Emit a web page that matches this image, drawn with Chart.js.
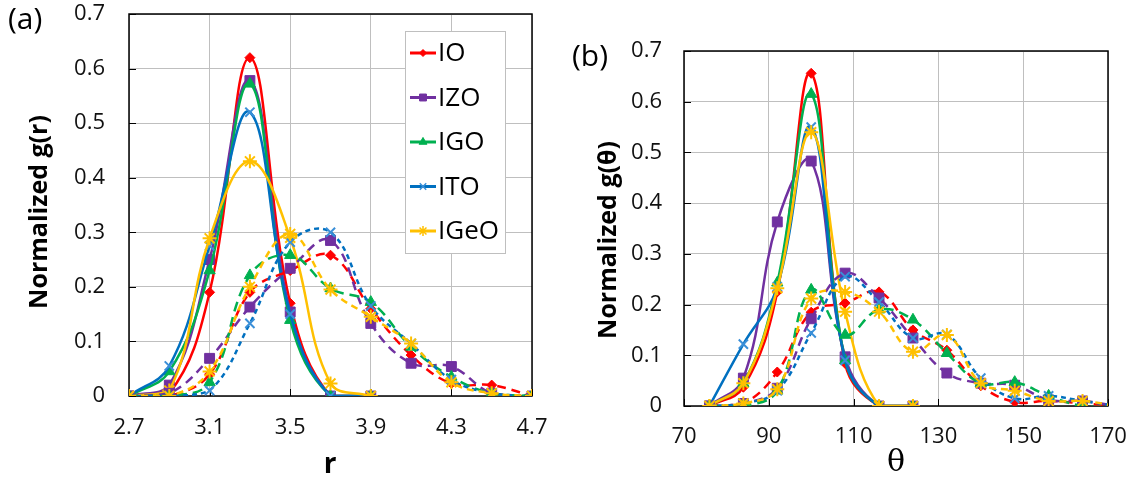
<!DOCTYPE html>
<html><head><meta charset="utf-8">
<script src="https://cdn.jsdelivr.net/npm/chart.js@4.4.1/dist/chart.umd.min.js"></script>
<style>
html,body{margin:0;padding:0;background:#fff;}
#wrap{position:relative;width:1132px;height:478px;overflow:hidden;}
#c1{position:absolute;left:0;top:0;}
#c2{position:absolute;left:560px;top:0;}
</style></head><body>
<div id="wrap">
<canvas id="c1" width="560" height="478"></canvas>
<canvas id="c2" width="572" height="478"></canvas>
</div>
<script>
// ---------- DATA ----------
const materials = ['IO', 'IZO', 'IGO', 'ITO', 'IGeO'];

// (a) g(r)
const rSolidX = [2.7, 2.9, 3.1, 3.3, 3.5, 3.7, 3.9];
const rDashX  = [2.7, 2.9, 3.1, 3.3, 3.5, 3.7, 3.9, 4.1, 4.3, 4.5, 4.7];
const gr_IO_solid   = [0, 0.005, 0.19, 0.62, 0.17, 0, 0];
const gr_IZO_solid  = [0, 0.02, 0.25, 0.578, 0.154, 0, 0];
const gr_IGO_solid  = [0, 0.045, 0.23, 0.572, 0.139, 0, 0];
const gr_ITO_solid  = [0, 0.055, 0.275, 0.52, 0.15, 0, 0];
const gr_IGeO_solid = [0, 0.01, 0.289, 0.43, 0.29, 0.023, 0];
const gr_IO_dash    = [0, 0, 0.04, 0.19, 0.23, 0.258, 0.16, 0.075, 0.023, 0.02, 0];
const gr_IZO_dash   = [0, 0.005, 0.069, 0.163, 0.234, 0.285, 0.133, 0.06, 0.054, 0.005, 0];
const gr_IGO_dash   = [0, 0, 0.025, 0.221, 0.258, 0.197, 0.172, 0.09, 0.035, 0.005, 0];
const gr_ITO_dash   = [0, 0, 0.01, 0.133, 0.282, 0.30, 0.165, 0.096, 0.03, 0.005, 0];
const gr_IGeO_dash  = [0, 0, 0.045, 0.2, 0.297, 0.195, 0.145, 0.096, 0.025, 0.005, 0];
const rTicks = [2.7, 3.1, 3.5, 3.9, 4.3, 4.7];
const rTickLabels = ['2.7', '3.1', '3.5', '3.9', '4.3', '4.7'];

// (b) g(theta)
const tSolidX = [76, 84, 92, 100, 108, 116, 124];
const tDashX  = [76, 84, 92, 100, 108, 116, 124, 132, 140, 148, 156, 164, 172];
const gt_IO_solid   = [0, 0.037, 0.225, 0.656, 0.084, 0, 0];
const gt_IZO_solid  = [0, 0.055, 0.363, 0.483, 0.097, 0, 0];
const gt_IGO_solid  = [0, 0.045, 0.243, 0.615, 0.09, 0, 0];
const gt_ITO_solid  = [0, 0.122, 0.235, 0.55, 0.09, 0, 0];
const gt_IGeO_solid = [0, 0.045, 0.232, 0.54, 0.186, 0, 0];
const gt_IO_dash    = [0, 0.005, 0.067, 0.185, 0.203, 0.225, 0.15, 0.11, 0.04, 0.008, 0.01, 0.005, 0];
const gt_IZO_dash   = [0, 0.005, 0.035, 0.172, 0.262, 0.213, 0.134, 0.065, 0.045, 0.041, 0.012, 0.01, 0];
const gt_IGO_dash   = [0, 0, 0.03, 0.229, 0.14, 0.19, 0.17, 0.104, 0.045, 0.047, 0.02, 0, 0];
const gt_ITO_dash   = [0, 0.005, 0.03, 0.144, 0.255, 0.205, 0.134, 0.141, 0.055, 0.015, 0.02, 0.01, 0];
const gt_IGeO_dash  = [0, 0.005, 0.033, 0.212, 0.225, 0.186, 0.107, 0.14, 0.045, 0.03, 0.01, 0.01, 0];
const tTicks = [70, 90, 110, 130, 150, 170];
const tTickLabels = ['70', '90', '110', '130', '150', '170'];

const yTicks = [0, 0.1, 0.2, 0.3, 0.4, 0.5, 0.6, 0.7];
const yTickLabels = ['0', '0.1', '0.2', '0.3', '0.4', '0.5', '0.6', '0.7'];

// ---------- STYLE ----------
const FONT = '"Open Sans", sans-serif';
const styles = {
  IO:   {color: '#FF0000', mcolor: '#FF0000', style: 'rectRot',  r: 5,   dash: [9, 6]},
  IZO:  {color: '#7030A0', mcolor: '#7030A0', style: 'rect',     r: 7,   dash: [9, 6]},
  IGO:  {color: '#00B050', mcolor: '#00B050', style: 'triangle', r: 6.5, dash: [10, 6]},
  ITO:  {color: '#0070C0', mcolor: '#3A8FD8', style: 'crossRot', r: 6.5, dash: [5, 4]},
  IGeO: {color: '#FFC000', mcolor: '#FFC000', style: 'star',     r: 7,   dash: [7, 5]}
};

function pts(xs, ys) { return xs.map((x, i) => ({x: x, y: ys[i]})); }

function makeDatasets(solidX, dashX, solids, dashes) {
  const ds = [];
  const all = [];
  materials.forEach((m, i) => all.push({m, data: pts(solidX, solids[i]), dashed: false}));
  materials.forEach((m, i) => all.push({m, data: pts(dashX, dashes[i]), dashed: true}));
  const n = all.length;
  all.forEach((d, k) => {
    const s = styles[d.m];
    ds.push({
      label: d.m + (d.dashed ? ' (dash)' : ''),
      data: d.data,
      borderColor: s.color,
      backgroundColor: s.mcolor,
      borderWidth: 2.5,
      borderDash: d.dashed ? s.dash : [],
      tension: 0.4,
      pointStyle: s.style,
      pointRadius: s.r,
      pointBorderColor: s.mcolor,
      pointBackgroundColor: s.mcolor,
      pointBorderWidth: (s.style === 'crossRot' || s.style === 'star') ? 2 : 1,
      fill: false,
      order: n - k
    });
  });
  return ds;
}

function decoPlugin(o) {
  return {
    id: 'deco',
    beforeDatasetsDraw(chart) {
      const {ctx, chartArea: a, scales} = chart;
      ctx.save();
      ctx.strokeStyle = '#000';
      ctx.lineWidth = 1;
      scales.y.ticks.forEach(t => {
        const y = Math.round(scales.y.getPixelForValue(t.value)) + 0.5;
        ctx.beginPath(); ctx.moveTo(a.left, y); ctx.lineTo(a.left + 7, y); ctx.stroke();
      });
      scales.x.ticks.forEach(t => {
        const x = Math.round(scales.x.getPixelForValue(t.value)) + 0.5;
        ctx.beginPath(); ctx.moveTo(x, a.bottom); ctx.lineTo(x, a.bottom - 7); ctx.stroke();
      });
      ctx.lineWidth = 1.5;
      ctx.strokeRect(a.left, a.top, a.right - a.left, a.bottom - a.top);
      ctx.restore();
    },
    afterDraw(chart) {
      const ctx = chart.ctx;
      ctx.save();
      ctx.fillStyle = '#000';
      // panel label
      ctx.font = '30px ' + FONT;
      ctx.textAlign = 'left'; ctx.textBaseline = 'middle';
      ctx.fillText(o.panel, o.panelX, o.panelY);
      // y title
      ctx.save();
      ctx.translate(o.yTitleX, o.yTitleY);
      ctx.rotate(-Math.PI / 2);
      ctx.font = 'bold 25px ' + FONT;
      ctx.textAlign = 'center'; ctx.textBaseline = 'middle';
      ctx.fillText(o.yTitle, 0, 0);
      ctx.restore();
      // x title
      ctx.font = o.xTitleFont;
      ctx.textAlign = 'center'; ctx.textBaseline = 'middle';
      ctx.fillText(o.xTitle, o.xTitleX, o.xTitleY);
      // legend
      if (o.legend) {
        const L = o.legend;
        ctx.fillStyle = '#fff';
        ctx.fillRect(L.x, L.y, L.w, L.h);
        ctx.strokeStyle = '#BFBFBF'; ctx.lineWidth = 1;
        ctx.strokeRect(L.x + 0.5, L.y + 0.5, L.w, L.h);
        materials.forEach((m, i) => {
          const s = styles[m];
          const cy = L.y + L.first + i * L.step;
          ctx.strokeStyle = s.color; ctx.lineWidth = 3; ctx.setLineDash([]);
          ctx.beginPath(); ctx.moveTo(L.x + 5, cy); ctx.lineTo(L.x + 31, cy); ctx.stroke();
          ctx.strokeStyle = s.mcolor; ctx.fillStyle = s.mcolor;
          ctx.lineWidth = (s.style === 'crossRot' || s.style === 'star') ? 1.5 : 1;
          Chart.helpers.drawPoint(ctx, {pointStyle: s.style, radius: s.r * 0.7, borderWidth: ctx.lineWidth}, L.x + 18, cy);
          ctx.fillStyle = '#000';
          ctx.font = '26px ' + FONT;
          ctx.textAlign = 'left'; ctx.textBaseline = 'middle';
          ctx.fillText(m, L.x + 33, cy + 1);
        });
      }
      ctx.restore();
    }
  };
}

function makeChart(id, cfg) {
  return new Chart(document.getElementById(id), {
    type: 'line',
    data: {datasets: makeDatasets(cfg.solidX, cfg.dashX, cfg.solids, cfg.dashes)},
    options: {
      responsive: false,
      animation: false,
      devicePixelRatio: 1,
      layout: {padding: cfg.padding},
      plugins: {legend: {display: false}, tooltip: {enabled: false}},
      elements: {line: {capBezierPoints: true}},
      scales: {
        x: {
          type: 'linear', min: cfg.xMin, max: cfg.xMax,
          afterBuildTicks: s => { s.ticks = cfg.xTicks.map(v => ({value: v})); },
          afterFit: s => { s.height = cfg.xHeight; s.paddingLeft = 0; s.paddingRight = 0; },
          ticks: {callback: (v, i) => cfg.xTickLabels[i], font: {family: FONT, size: 22}, color: '#111', padding: cfg.xPad, maxRotation: 0, autoSkip: false},
          grid: {color: '#BFBFBF', lineWidth: 1, drawTicks: false},
          border: {display: false}
        },
        y: {
          type: 'linear', min: 0, max: 0.7,
          afterBuildTicks: s => { s.ticks = yTicks.map(v => ({value: v})); },
          afterFit: s => { s.width = cfg.yWidth; s.paddingTop = 0; s.paddingBottom = 0; },
          ticks: {callback: (v, i) => yTickLabels[i], font: {family: FONT, size: 22}, color: '#111', padding: cfg.yPad},
          grid: {color: '#BFBFBF', lineWidth: 1, drawTicks: false},
          border: {display: false}
        }
      }
    },
    plugins: [decoPlugin(cfg.deco)]
  });
}

makeChart('c1', {
  solidX: rSolidX, dashX: rDashX,
  solids: [gr_IO_solid, gr_IZO_solid, gr_IGO_solid, gr_ITO_solid, gr_IGeO_solid],
  dashes: [gr_IO_dash, gr_IZO_dash, gr_IGO_dash, gr_ITO_dash, gr_IGeO_dash],
  xMin: 2.7, xMax: 4.7, xTicks: rTicks, xTickLabels: rTickLabels,
  padding: {left: 0, top: 14, right: 28, bottom: 0},
  yWidth: 129, xHeight: 82, xPad: 19, yPad: 24,
  deco: {
    panel: '(a)', panelX: 8, panelY: 20,
    yTitle: 'Normalized g(r)', yTitleX: 40, yTitleY: 212,
    xTitle: 'r', xTitleFont: 'bold 28px ' + FONT, xTitleX: 330, xTitleY: 465,
    legend: {x: 405, y: 31, w: 100, h: 222, first: 22, step: 44.5}
  }
});

makeChart('c2', {
  solidX: tSolidX, dashX: tDashX,
  solids: [gt_IO_solid, gt_IZO_solid, gt_IGO_solid, gt_ITO_solid, gt_IGeO_solid],
  dashes: [gt_IO_dash, gt_IZO_dash, gt_IGO_dash, gt_ITO_dash, gt_IGeO_dash],
  xMin: 70, xMax: 170, xTicks: tTicks, xTickLabels: tTickLabels,
  padding: {left: 0, top: 51, right: 24, bottom: 0},
  yWidth: 124, xHeight: 72, xPad: 18, yPad: 22,
  deco: {
    panel: '(b)', panelX: 12, panelY: 57,
    yTitle: 'Normalized g(θ)', yTitleX: 49, yTitleY: 240,
    xTitle: 'θ', xTitleFont: '30px "DejaVu Serif", serif', xTitleX: 336, xTitleY: 463,
    legend: null
  }
});
</script>
</body></html>
